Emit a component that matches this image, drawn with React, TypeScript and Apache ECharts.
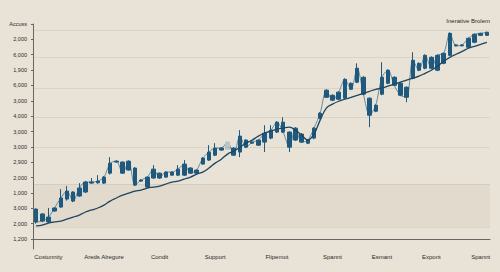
import React, { useEffect, useRef } from "react";
import * as echarts from "echarts";

// OHLC values: [open, close, low, high]
const candles: number[][] = [
  [195, 111, 100, 200], [163, 117, 110, 168], [111, 143, 105, 202], [182, 202, 178, 206],
  [208, 267, 204, 325], [260, 312, 250, 345], [306, 247, 240, 310], [280, 332, 275, 364],
  [306, 371, 300, 378], [364, 371, 360, 397], [366, 377, 360, 416], [364, 403, 358, 410],
  [429, 494, 420, 533], [501, 507, 498, 512], [501, 429, 425, 505], [449, 507, 445, 512],
  [462, 351, 345, 468], [377, 384, 372, 388], [338, 403, 332, 408], [397, 455, 392, 481],
  [429, 397, 392, 433], [403, 436, 398, 440], [416, 436, 412, 440], [416, 455, 410, 481],
  [416, 488, 410, 514], [462, 429, 424, 468], [429, 449, 424, 452], [488, 527, 484, 532],
  [514, 566, 508, 611], [546, 592, 540, 624], [579, 592, 575, 598], [585, 631, 580, 637],
  [592, 546, 540, 598], [566, 670, 533, 709], [644, 598, 592, 650], [624, 631, 620, 636],
  [611, 644, 606, 650], [631, 689, 566, 741], [657, 709, 650, 741], [696, 761, 690, 767],
  [761, 696, 690, 793], [696, 598, 566, 702], [644, 722, 638, 728], [683, 631, 625, 690],
  [624, 644, 618, 650], [657, 722, 650, 728], [787, 819, 780, 826], [923, 969, 918, 975],
  [936, 904, 898, 942], [910, 956, 904, 962], [917, 1040, 910, 1046], [1014, 975, 970, 1020],
  [1021, 1112, 1015, 1144], [1053, 943, 936, 1060], [917, 806, 728, 922], [832, 871, 826, 877],
  [943, 1053, 936, 1151], [1014, 1099, 1008, 1105], [1053, 1001, 995, 1060], [1014, 936, 930, 1020],
  [988, 923, 891, 994], [1047, 1164, 1040, 1216], [1144, 1099, 1093, 1150], [1112, 1196, 1105, 1202],
  [1183, 1112, 1105, 1190], [1099, 1196, 1093, 1202], [1144, 1209, 1138, 1215], [1196, 1339, 1190, 1346],
  [1264, 1258, 1254, 1268], [1258, 1264, 1254, 1268], [1248, 1307, 1242, 1312], [1281, 1333, 1275, 1338],
  [1326, 1339, 1322, 1343], [1326, 1346, 1322, 1350],
];

// Smooth trend line
const trend: number[] = [
  85, 91, 104, 111, 117, 130, 143, 156, 176, 189, 202, 221, 247, 267, 286, 299, 312, 319, 332, 338,
  345, 358, 371, 377, 390, 403, 423, 436, 462, 494, 520, 553, 572, 598, 624, 644, 670, 689, 702, 715,
  722, 728, 709, 676, 644, 683, 774, 852, 878, 897, 910, 923, 936, 949, 962, 975, 982, 995, 1008, 1021,
  1034, 1047, 1060, 1079, 1099, 1125, 1157, 1183, 1203, 1222, 1242, 1255, 1268, 1281,
];

const categories: string[] = candles.map((_, i) => String(i));

// x-axis labels by category index
const xLabelIndex: number[] = [2, 11, 20, 29, 39, 48, 56, 64, 72];
const xLabelText: string[] = [
  "Costunnity", "Areds Alregure", "Condit", "Support", "Flipemot", "Spannt", "Esmant", "Expont", "Spannt",
];
const xTickIndex: number[] = [3, 8, 12, 17, 21, 26, 30, 35, 39, 44, 48, 53, 57, 61, 64, 69, 73];

// y-axis tick values and their printed labels (bottom to top)
const yTickValues: number[] = [0, 100, 200, 300, 400, 500, 600, 700, 800, 900, 1000, 1100, 1200, 1300, 1400];
const yTickLabels: string[] = [
  "1,200", "2,000", "3,000", "1,000", "2,000", "2,900", "3,000", "3,000", "4,000", "3,000",
  "6,000", "1,900", "6,000", "2,000", "Accuss",
];

const gridLineValues: number[] = [1358, 1183, 981, 793, 598, 358, 78];
const bandRange: number[] = [78, 358];

const lightCandleIndex = 31;

export default function App() {
  const ref = useRef<HTMLDivElement>(null);
  useEffect(() => {
    if (!ref.current) return;
    const chart = echarts.init(ref.current, undefined, { renderer: "svg" });
    const blue = "#1f5a7e";
    const font = "Liberation Sans";
    const candleData = candles.map((c, i) =>
      i === lightCandleIndex
        ? { value: c, itemStyle: { color: "#b9c4c8", color0: "#b9c4c8", borderColor: "#b9c4c8", borderColor0: "#b9c4c8" } }
        : c
    );
    const closes = candles.map((c) => c[1]);
    chart.setOption({
      animation: false,
      backgroundColor: "#e9e2d6",
      textStyle: { fontFamily: font },
      grid: { left: 33, right: 10, top: 24, bottom: 23 },
      graphic: [
        {
          type: "text",
          right: 10,
          top: 18,
          style: { text: "Inerative Brolem", fontSize: 6, fill: "#2a2a2a", fontFamily: font },
        },
      ],
      xAxis: {
        type: "category",
        data: categories,
        boundaryGap: true,
        axisLine: { lineStyle: { color: "#6a655e", width: 1 } },
        axisTick: {
          length: 2,
          lineStyle: { color: "#6a655e" },
          interval: (idx: number) => xTickIndex.indexOf(idx) >= 0,
        },
        axisLabel: {
          interval: (idx: number) => xLabelIndex.indexOf(idx) >= 0,
          formatter: (_v: string, idx: number) => {
            const k = xLabelIndex.indexOf(idx);
            return k >= 0 ? xLabelText[k] : "";
          },
          fontSize: 6,
          color: "#2a2a2a",
          margin: 5,
          fontFamily: font,
        },
        splitLine: { show: false },
      },
      yAxis: {
        type: "value",
        min: -65,
        max: 1400,
        axisLine: { show: true, lineStyle: { color: "#6a655e", width: 1 } },
        axisTick: { show: true, length: 2, customValues: yTickValues, lineStyle: { color: "#6a655e" } },
        axisLabel: {
          customValues: yTickValues,
          formatter: (v: number) => {
            const k = yTickValues.indexOf(Math.round(v));
            return k >= 0 ? yTickLabels[k] : "";
          },
          fontSize: 5.5,
          color: "#2a2a2a",
          margin: 6,
          fontFamily: font,
        },
        splitLine: { show: false },
      },
      series: [
        {
          name: "bg",
          type: "line",
          data: trend,
          z: 0,
          silent: true,
          symbol: "none",
          lineStyle: { opacity: 0 },
          markArea: {
            silent: true,
            itemStyle: { color: "rgba(110,95,75,0.06)" },
            data: [[{ yAxis: bandRange[0] }, { yAxis: bandRange[1] }]],
          },
          markLine: {
            silent: true,
            symbol: "none",
            label: { show: false },
            lineStyle: { color: "rgba(110,95,75,0.14)", width: 0.8, type: "solid" },
            data: gridLineValues.map((v) => ({ yAxis: v })),
          },
        },
        {
          name: "candles",
          type: "candlestick",
          data: candleData,
          barWidth: 4,
          z: 3,
          itemStyle: {
            color: blue,
            color0: blue,
            borderColor: blue,
            borderColor0: blue,
            borderWidth: 1,
          },
        },
        {
          name: "closeLine",
          type: "line",
          data: closes,
          z: 2,
          symbol: "none",
          smooth: 0.3,
          lineStyle: { color: "#2c6689", width: 0.7 },
        },
        {
          name: "trend",
          type: "line",
          data: trend,
          z: 4,
          symbol: "none",
          smooth: 0.4,
          lineStyle: { color: "#1d4561", width: 1.3 },
        },
      ],
    });
    return () => chart.dispose();
  }, []);
  return (
    <div
      ref={ref}
      style={{ position: "fixed", left: 0, top: 0, width: 500, height: 272 }}
    />
  );
}
